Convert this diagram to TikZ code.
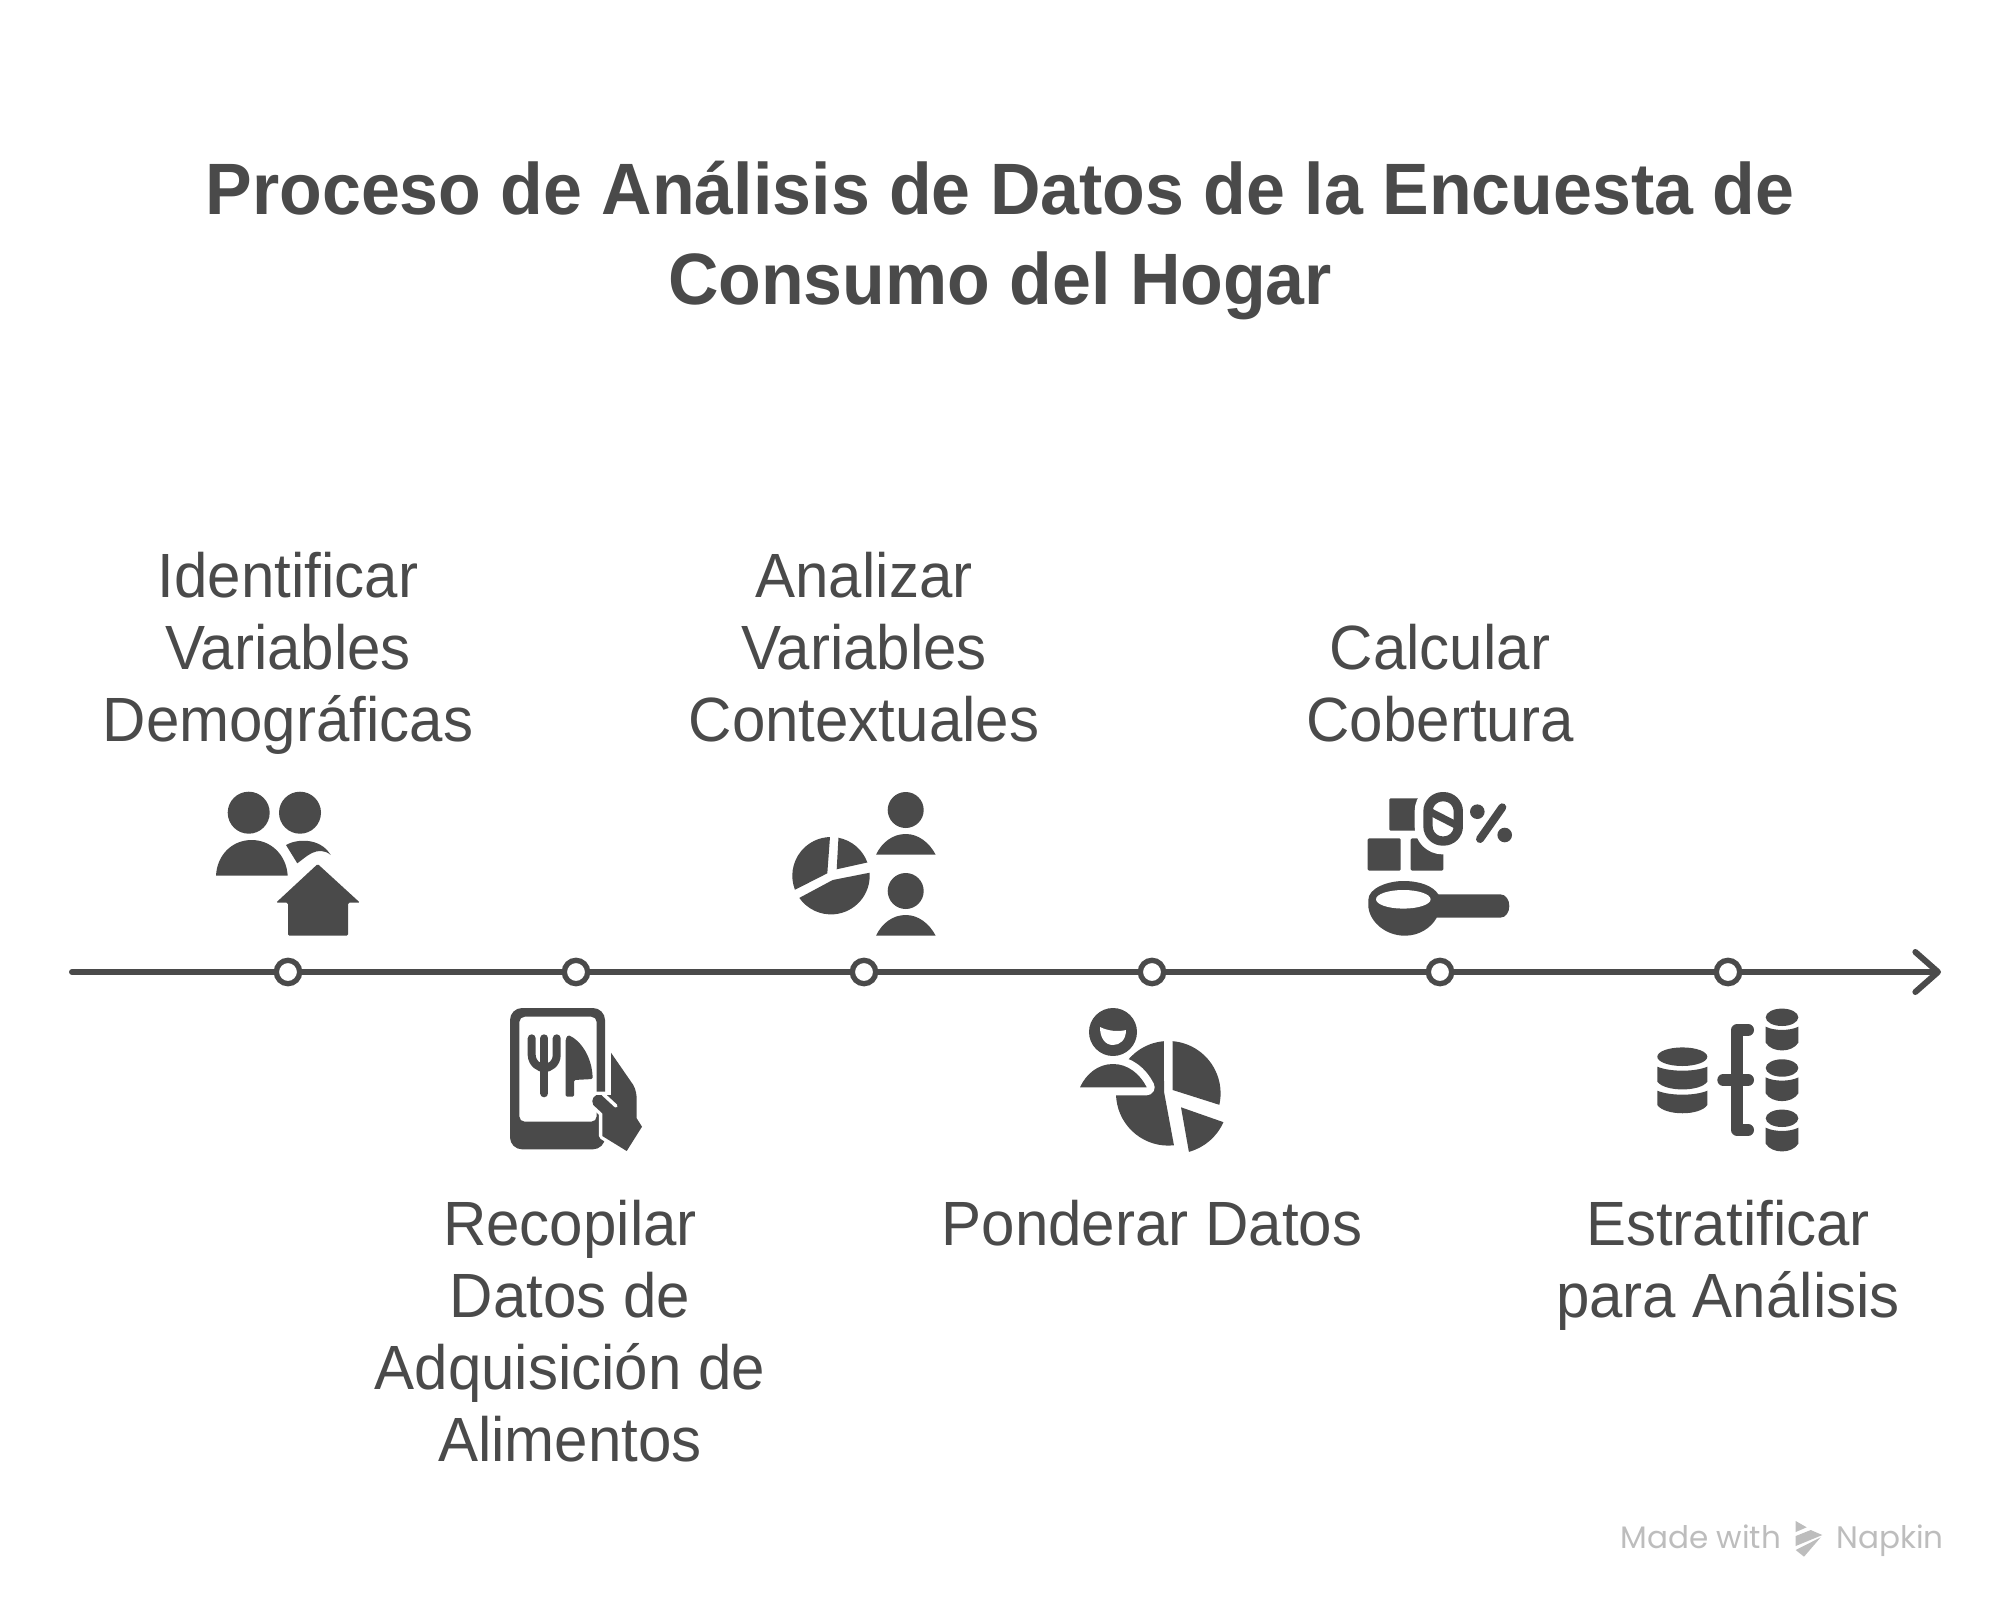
\documentclass[tikz,border=0pt]{standalone}
\usepackage{fontspec}
\setmainfont[FakeStretch=0.96]{Liberation Sans}
\newfontfamily\markfont{Poppins}
\usetikzlibrary{arrows.meta}
\definecolor{inkgray}{RGB}{74,74,74}
\definecolor{markgray}{RGB}{189,189,189}
\tikzset{%
    steplabel/.style={anchor=base,align=center,inner sep=0pt,text=inkgray,font=\fontsize{46.9}{54}\selectfont},%
    titlelabel/.style={anchor=base,align=center,inner sep=0pt,text=inkgray,font=\fontsize{54.6}{67.5}\selectfont\bfseries},%
    marklabel/.style={anchor=base west,inner sep=0pt,text=markgray,font=\markfont\fontsize{23.3}{28}\selectfont},%
    dotmark/.style={circle,draw=inkgray,fill=white,line width=4pt,minimum size=17.5pt,inner sep=0pt},%
    iconstroke/.style={draw=inkgray,line cap=round,line join=round},%
}

\begin{document}
\begin{tikzpicture}[x=0.75pt,y=0.75pt,yscale=-1,xscale=1]
\useasboundingbox (0,0) rectangle (2016,1620);

%Title
\node [titlelabel] (title) at (1000,304) {Proceso de Análisis de Datos de la Encuesta de\\Consumo del Hogar};

%Timeline
\coordinate (linestart) at (72,972);
\coordinate (lineend) at (1941,972);
\draw [draw=inkgray,line width=4.5pt,line cap=round,-{Straight Barb[length=17pt,width=30pt,round]}] (linestart) -- (lineend);
\node [dotmark] (dotA) at (288,972) {};
\node [dotmark] (dotB) at (576,972) {};
\node [dotmark] (dotC) at (864,972) {};
\node [dotmark] (dotD) at (1152,972) {};
\node [dotmark] (dotE) at (1440,972) {};
\node [dotmark] (dotF) at (1728,972) {};

%Labels
\node [steplabel] (labelA) at (288,741) {Identificar\\Variables\\Demográficas};
\node [steplabel] (labelB) at (570,1461) {Recopilar\\Datos de\\Adquisición de\\Alimentos};
\node [steplabel] (labelC) at (864,741) {Analizar\\Variables\\Contextuales};
\node [steplabel] (labelD) at (1152,1245) {Ponderar Datos};
\node [steplabel] (labelE) at (1440,741) {Calcular\\Cobertura};
\node [steplabel] (labelF) at (1728,1317) {Estratificar\\para Análisis};

%Shape: Circle
\fill [inkgray] (248.7,812.7) circle (21);
\fill [inkgray] (300,812.7) circle (21);
%Curve Lines
\fill [inkgray] (216,875.7) .. controls (217,855) and (232,840) .. (251.7,840) .. controls (271,840) and (286.5,855) .. (287.7,875.7) -- cycle;
\fill [inkgray] (286,845) .. controls (296,839) and (320,837) .. (330.7,855) .. controls (325,850) and (318,850) .. (312,853) .. controls (306,856) and (302,860) .. (297.3,863.3) -- cycle;
%Straight Lines
\fill [inkgray,rounded corners=1pt] (317.7,864) -- (360,902.7) -- (348,902.7) -- (348,935.7) -- (288,935.7) -- (288,902.7) -- (276,902.7) -- cycle;

%Shape: Rectangle
\fill [inkgray,even odd rule] [rounded corners=9pt] (510,1008) rectangle (605,1149.3) [rounded corners=4pt] (519.3,1016.7) rectangle (596.7,1121.7);
%Curve Lines
\draw [iconstroke,line width=6pt] (531.7,1038.3) -- (531.7,1055) .. controls (532,1064) and (540,1068) .. (544.3,1068.3) .. controls (549,1068) and (556.7,1064) .. (556.7,1055) -- (556.7,1038.3);
\draw [iconstroke,line width=6pt] (544.3,1038.3) -- (544.3,1093.3);
\fill [inkgray,rounded corners=1pt] (565.7,1039) -- (568,1035) .. controls (580,1040) and (592,1056) .. (592.7,1079) -- (574,1080) -- (574,1096.7) -- (565.7,1096.7) -- cycle;
%hand
\filldraw [draw=white,fill=white,line width=5pt,line join=round] (611,1052.7) -- (633.3,1085) .. controls (636,1090) and (636.7,1095) .. (636.7,1100) -- (636.7,1118.3) -- (642,1126.7) -- (626.7,1151) -- (602.3,1136) -- (602.3,1113.3) -- (593.3,1105) .. controls (590,1100) and (595,1093) .. (600,1095) -- (611,1095) -- cycle;
\fill [inkgray] (611,1052.7) -- (633.3,1085) .. controls (636,1090) and (636.7,1095) .. (636.7,1100) -- (636.7,1118.3) -- (642,1126.7) -- (626.7,1151) -- (602.3,1136) -- (602.3,1113.3) -- (593.3,1105) .. controls (590,1100) and (595,1093) .. (600,1095) -- (611,1095) -- cycle;
\draw [draw=white,line width=2.6pt,line cap=round] (603,1094) -- (616,1106);

%Shape: Circle
\fill [inkgray] (905.7,810) circle (18);
\fill [inkgray] (905.7,891) circle (18);
%Curve Lines
\fill [inkgray] (876,854.7) .. controls (882,842) and (893,834) .. (905.7,834) .. controls (918,834) and (929,842) .. (935.7,854.7) -- cycle;
\fill [inkgray] (876,935.7) .. controls (882,923) and (893,915) .. (905.7,915) .. controls (918,915) and (929,923) .. (935.7,935.7) -- cycle;
%Shape: Pie
\begin{scope}[shift={(831,875.7)}]
\fill [inkgray] (158.7:38.7) arc (158.7:268.5:38.7) -- (-3.7,-2.4) -- cycle;
\fill [inkgray] (-78.9:38.7) arc (-78.9:-20:38.7) -- (5.7,-6.4) -- cycle;
\fill [inkgray] (-4.4:38.7) arc (-4.4:145:38.7) -- (1.7,4.3) -- cycle;
\end{scope}

%Shape: Pie
\begin{scope}[shift={(1168.3,1093.3)}]
\fill [inkgray] (83.8:52.3) arc (83.8:265.2:52.3) -- (-4.3,-1.6) -- cycle;
\fill [inkgray] (-85.2:52.3) arc (-85.2:12.7:52.3) -- (4.4,-3.3) -- cycle;
\end{scope}
\begin{scope}[shift={(1175,1100.7)}]
\fill [inkgray] (23.9:53) arc (23.9:74.8:53) -- (6,6.6) -- cycle;
\end{scope}
%Shape: Circle
\filldraw [draw=white,fill=inkgray,line width=6pt] (1113,1032) circle (26);
\fill [inkgray] (1113,1032) circle (24);
\filldraw [draw=white,fill=inkgray,line width=12pt,line join=round] (1080,1087.3) .. controls (1086,1074) and (1098,1064) .. (1113,1064) .. controls (1128,1064) and (1140,1074) .. (1146.7,1087.3) -- cycle;
\fill [inkgray] (1080,1087.3) .. controls (1086,1074) and (1098,1064) .. (1113,1064) .. controls (1128,1064) and (1140,1074) .. (1146.7,1087.3) -- cycle;
\fill [white] (1100,1027) .. controls (1108,1031) and (1118,1032) .. (1126,1030) .. controls (1126,1040) and (1120,1045) .. (1113,1045) .. controls (1105,1045) and (1100,1038) .. (1100,1027) -- cycle;

%Shape: Rectangle
\fill [inkgray,rounded corners=1pt] (1389.3,798.3) rectangle (1430,830.7);
\fill [inkgray,rounded corners=1pt] (1367.7,838.3) rectangle (1400.7,870.7);
\fill [inkgray,rounded corners=1pt] (1410.7,838.3) rectangle (1443.3,870.7);
\draw [draw=white,fill=white,line width=20pt,rounded corners=11pt] (1428,796.7) rectangle (1458.3,841);
\draw [draw=inkgray,line width=7pt,rounded corners=11pt] (1428,796.7) rectangle (1458.3,841);
\draw [draw=inkgray,line width=5.5pt] (1430,811.7) -- (1456,825);
%Shape: Circle
\fill [inkgray] (1477.3,811.7) circle (7.3);
\fill [inkgray] (1504.7,835) circle (7.3);
\draw [iconstroke,line width=6pt] (1502.3,807.3) -- (1480,839);
%Curve Lines
\fill [inkgray] (1368.3,900) .. controls (1368.3,888) and (1388,881) .. (1403.3,881) .. controls (1420,881) and (1433,886) .. (1438.3,894.3) -- (1500,894.3) .. controls (1506,894.3) and (1509.3,900) .. (1509.3,906) .. controls (1509.3,912) and (1506,917.7) .. (1500,917.7) -- (1436.7,917.7) .. controls (1431,928) and (1419,935.7) .. (1405,935.7) .. controls (1384,935.7) and (1368.3,920) .. (1368.3,905) -- cycle;
%Shape: Ellipse
\fill [white] (1403.3,899.3) ellipse (27.3 and 9.3);

%Shape: Ellipse
\fill [inkgray] (1682.3,1056.7) ellipse (25 and 9.3);
%Curve Lines
\fill [inkgray] (1657.3,1066.7) .. controls (1670,1072) and (1695,1072) .. (1707.3,1066.7) -- (1707.3,1081.7) .. controls (1700,1092) and (1665,1092) .. (1657.3,1081.7) -- cycle;
\fill [inkgray] (1657.3,1090.7) .. controls (1670,1096) and (1695,1096) .. (1707.3,1090.7) -- (1707.3,1105) .. controls (1700,1116) and (1665,1116) .. (1657.3,1105) -- cycle;
%Straight Lines
\draw [iconstroke,line width=9pt] (1748,1030) -- (1737.3,1030) -- (1737.3,1130) -- (1748,1130);
\draw [iconstroke,line width=9pt] (1723.3,1080) -- (1748,1080);
%Shape: Ellipse
\fill [inkgray] (1782,1017.3) ellipse (16.3 and 8.7);
\fill [inkgray] (1782,1068) ellipse (16.3 and 8.7);
\fill [inkgray] (1782,1118.3) ellipse (16.3 and 8.7);
%Curve Lines
\fill [inkgray] (1765.7,1026.7) .. controls (1774,1031) and (1790,1031) .. (1798.3,1026.7) -- (1798.3,1042.7) .. controls (1792,1053) and (1772,1053) .. (1765.7,1042.7) -- cycle;
\fill [inkgray] (1765.7,1077.4) .. controls (1774,1081.7) and (1790,1081.7) .. (1798.3,1077.4) -- (1798.3,1093.4) .. controls (1792,1103.7) and (1772,1103.7) .. (1765.7,1093.4) -- cycle;
\fill [inkgray] (1765.7,1127.7) .. controls (1774,1132) and (1790,1132) .. (1798.3,1127.7) -- (1798.3,1143.7) .. controls (1792,1154) and (1772,1154) .. (1765.7,1143.7) -- cycle;

%Watermark
\node [marklabel] (madewith) at (1620,1548) {Made with};
\node [marklabel] (napkin) at (1836,1548) {Napkin};
\fill [markgray] (1795.7,1521) -- (1806.7,1527.3) -- (1795.7,1532) -- cycle;
\fill [markgray] (1795.7,1536) -- (1810.7,1530) -- (1822.3,1535) -- (1795.7,1546) -- cycle;
\fill [markgray] (1795.7,1550) -- (1820.7,1537.3) -- (1804,1556.7) -- cycle;

\end{tikzpicture}
\end{document}
